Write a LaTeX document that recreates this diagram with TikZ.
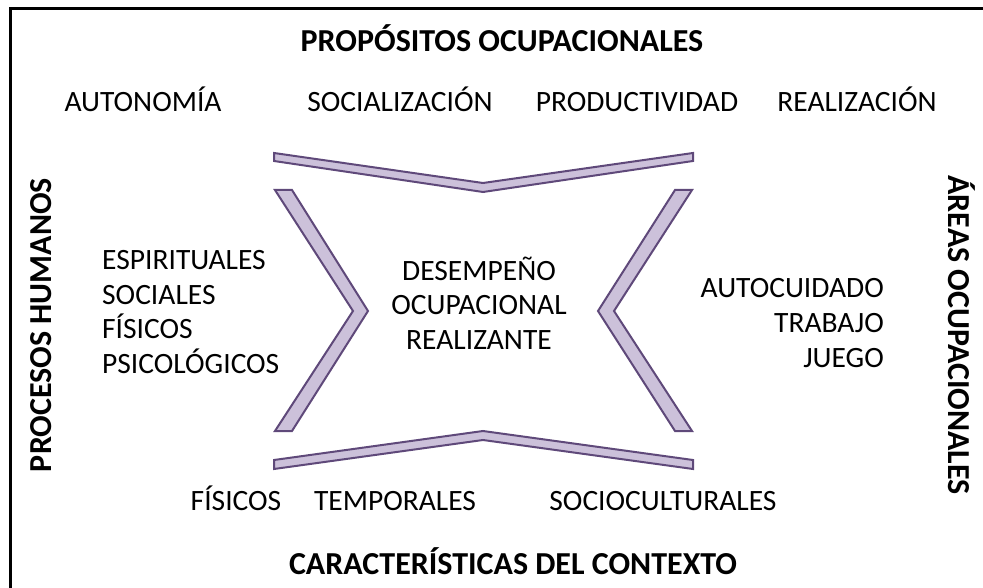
\documentclass[tikz,border=0pt]{standalone}
\usepackage{fontspec}
\setmainfont{Carlito}
\usetikzlibrary{positioning}
\definecolor{chevronfill}{HTML}{CCC1DA}
\definecolor{chevronline}{HTML}{5F497A}

\begin{document}
\begin{tikzpicture}[
	x=1pt, y=-1pt,
	title/.style = {font=\fontsize{32}{38}\selectfont\bfseries, inner sep=0pt},
	item/.style = {font=\fontsize{29.5}{34.7}\selectfont, inner sep=0pt},
	chevron/.style = {draw=chevronline, fill=chevronfill, line width=2pt, line join=miter},
	frame/.style = {line width=3pt}
	]
	\useasboundingbox (0,0) rectangle (983,588);
	\draw[frame] (10,588) -- (10,9) -- (983,9);
	
	\draw[chevron] (274,153) -- (483,183) -- (693,153) -- (693,161) -- (483,192) -- (274,161) -- cycle;
	\draw[chevron] (274,460) -- (483,431) -- (693,460) -- (693,469) -- (483,440) -- (274,469) -- cycle;
	\draw[chevron] (275,190) -- (292,190) -- (368,311) -- (292,431) -- (275,431) -- (353,311) -- cycle;
	\draw[chevron] (692,190) -- (675,190) -- (598,311) -- (675,431) -- (692,431) -- (614,311) -- cycle;
	
	\node[title, anchor=base] (propositos) at (502,52) {PROPÓSITOS OCUPACIONALES};
	\node[item, anchor=base] (autonomia) at (143,112) {AUTONOMÍA};
	\node[item, anchor=base] (socializacion) at (400,112) {SOCIALIZACIÓN};
	\node[item, anchor=base] (productividad) at (637,112) {PRODUCTIVIDAD};
	\node[item, anchor=base] (realizacion) at (857,112) {REALIZACIÓN};
	
	\node[title, rotate=90] (procesos) at (41,325) {PROCESOS HUMANOS};
	\node[title, rotate=-90] (areas) at (962,335) {ÁREAS OCUPACIONALES};
	
	\node[item, align=left, anchor=west] (humanos) at (102,312) {ESPIRITUALES\\SOCIALES\\FÍSICOS\\PSICOLÓGICOS};
	\node[item, align=center] (desempeno) at (479,303) {DESEMPEÑO\\OCUPACIONAL\\REALIZANTE};
	\node[item, align=right, anchor=east] (ocupacionales) at (884,323) {AUTOCUIDADO\\TRABAJO\\JUEGO};
	
	\node[item, anchor=base] (fisicos) at (236,510) {FÍSICOS};
	\node[item, anchor=base] (temporales) at (395,510) {TEMPORALES};
	\node[item, anchor=base] (socioculturales) at (663,510) {SOCIOCULTURALES};
	\node[title, anchor=base] (contexto) at (513,574) {CARACTERÍSTICAS DEL CONTEXTO};
\end{tikzpicture}
\end{document}
